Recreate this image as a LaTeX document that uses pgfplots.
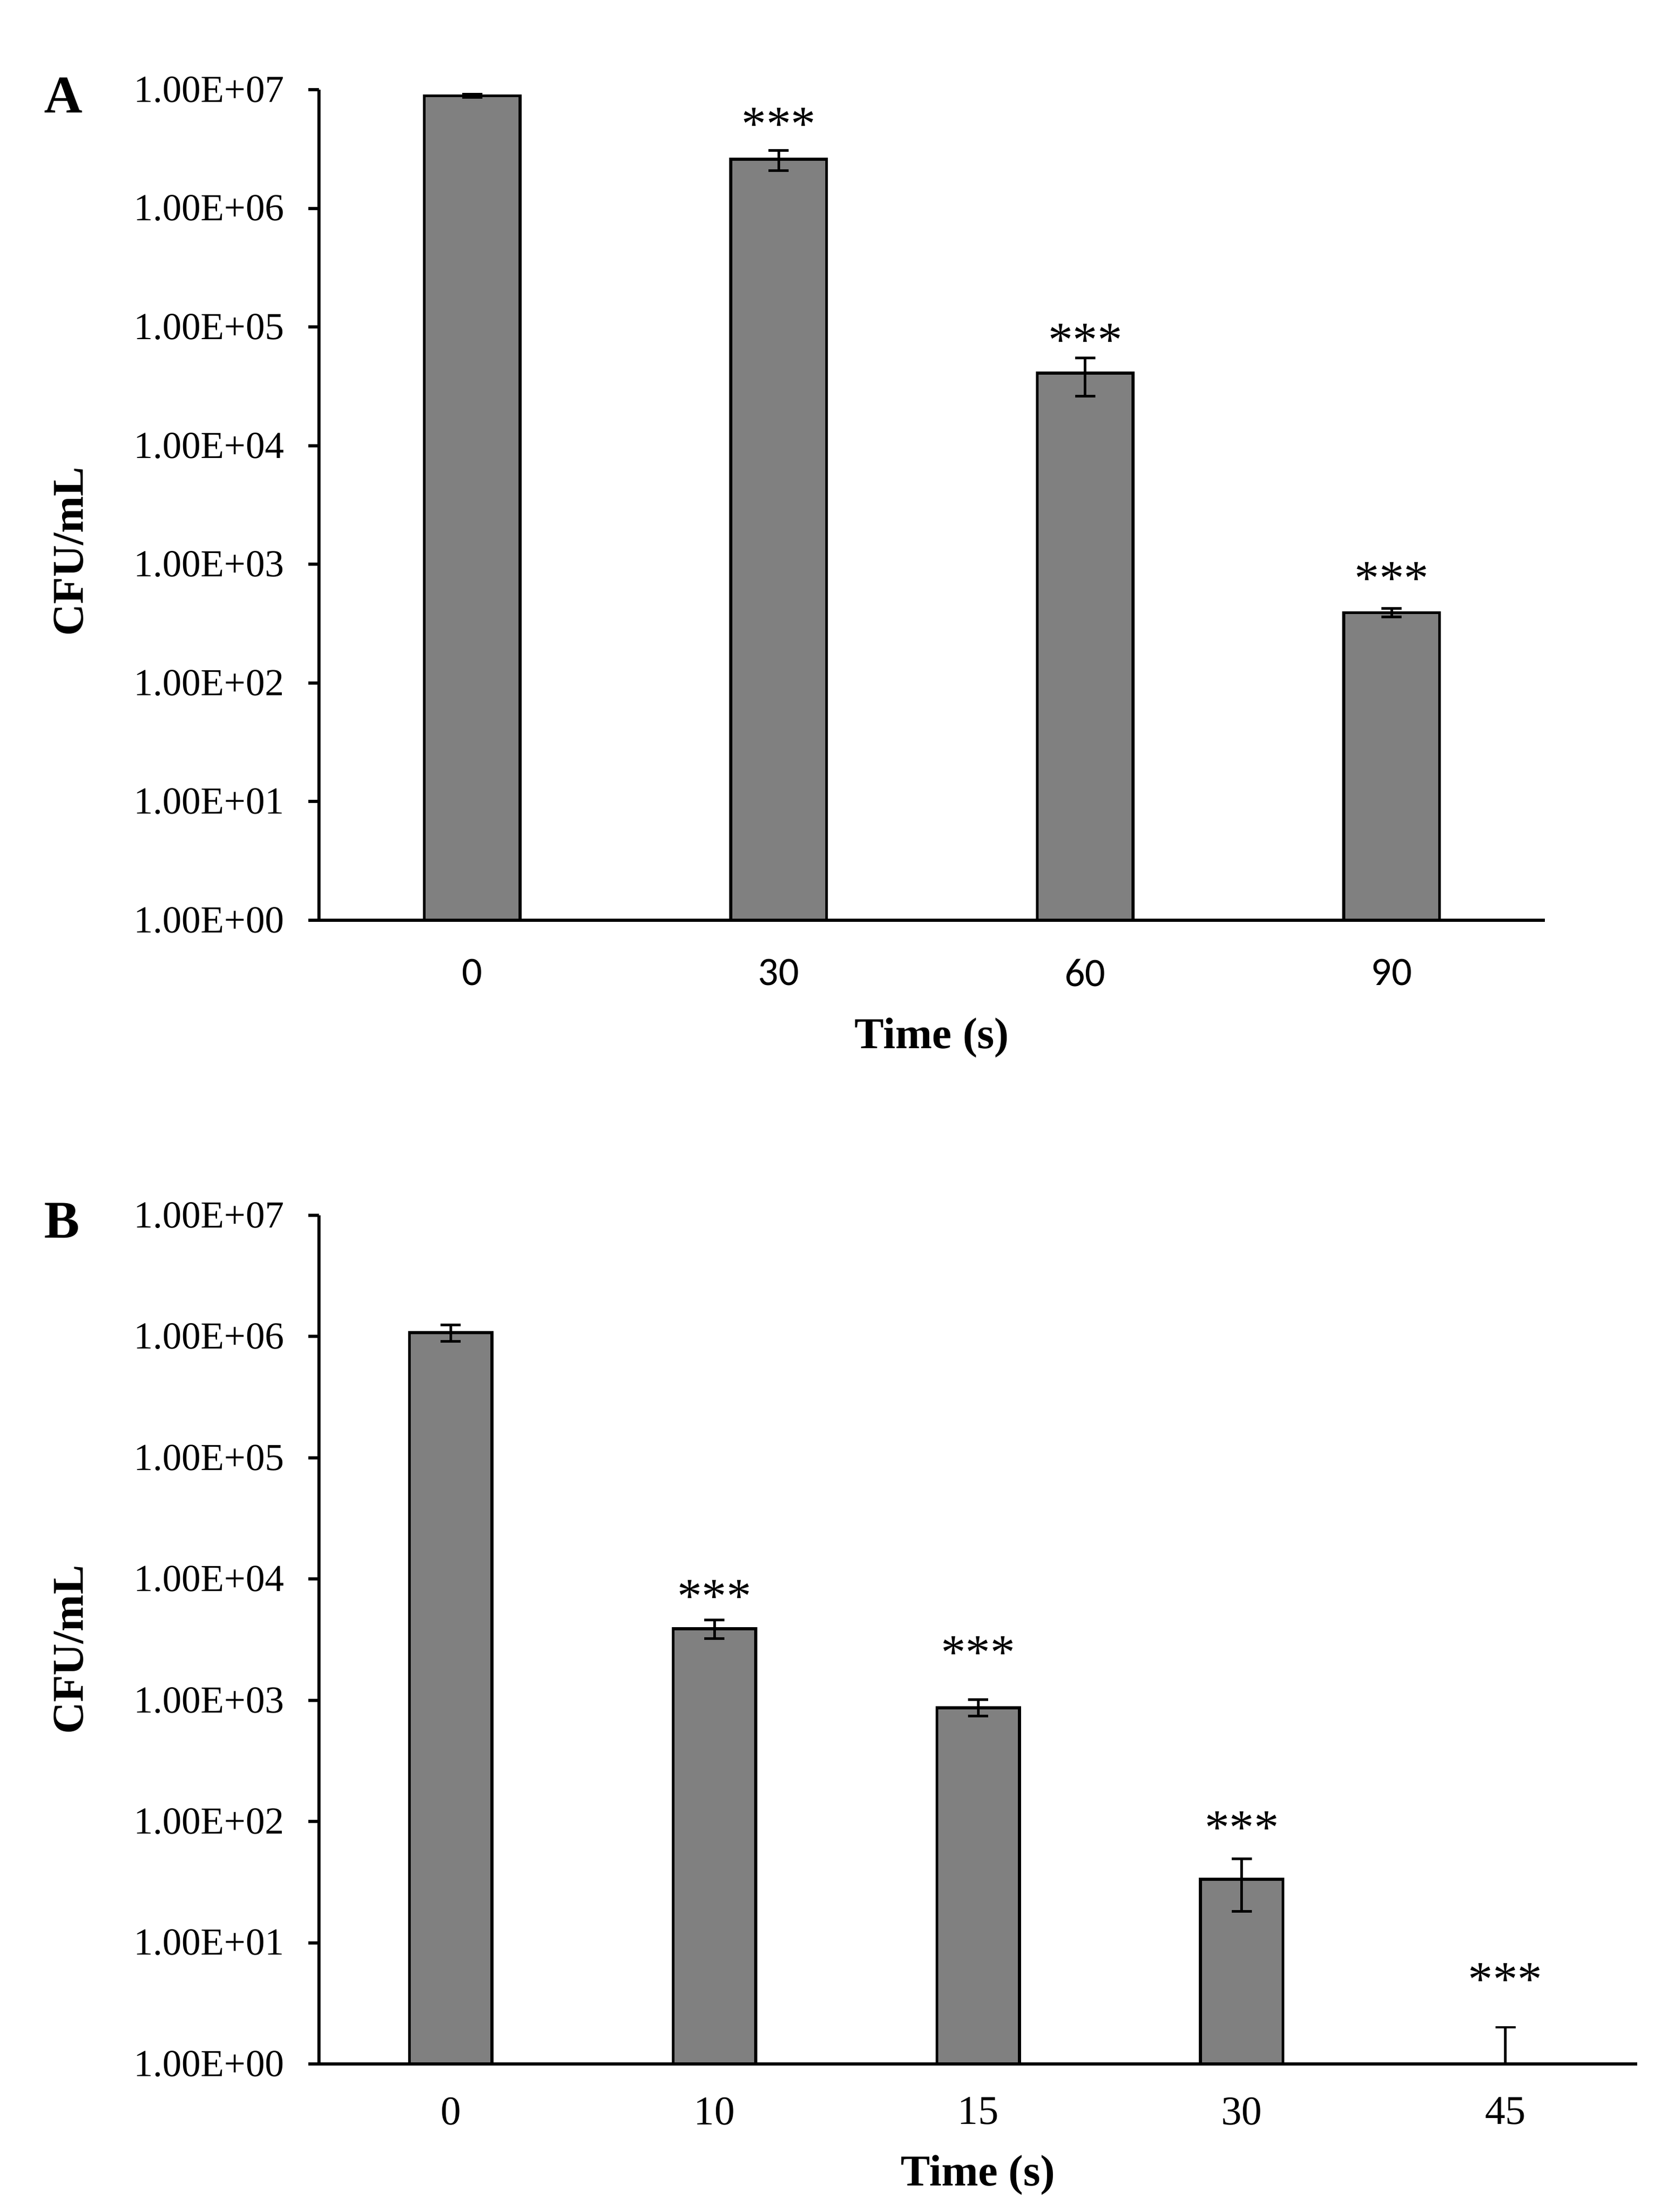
\documentclass[border=0pt]{standalone}
\usepackage{fontspec}
\setmainfont{Liberation Serif}
\newfontfamily\calibri{Carlito}
\usepackage{pgfplots}
\pgfplotsset{compat=1.18}

\begin{document}
\begin{tikzpicture}
\path[use as bounding box] (0,0) rectangle (314.2pt,416.8pt);

% Panel A
\begin{axis}[
  scale only axis,
  at={(60.1pt,243.4pt)}, anchor=south west,
  width=231pt, height=156.5pt,
  ymode=log, ymin=1, ymax=1e7,
  xmin=-0.5, xmax=3.5,
  axis lines*=left,
  axis line style={line width=0.65pt},
  tick align=outside,
  major tick length=2pt,
  yminorticks=false,
  ytick={1,10,100,1000,10000,100000,1000000,10000000},
  yticklabels={1.00E+00,1.00E+01,1.00E+02,1.00E+03,1.00E+04,1.00E+05,1.00E+06,1.00E+07},
  ytick style={line width=0.6pt, black},
  xtick style={draw=none},
  yticklabel style={font=\fontsize{7.2}{8}\selectfont, inner sep=0pt, xshift=-4.4pt},
  xtick={0,1,2,3}, xticklabels={0,30,60,90},
  xticklabel style={font=\calibri\fontsize{7.6}{8}\selectfont, inner sep=0pt, anchor=north, yshift=-5.1pt},
  xlabel={Time (s)}, ylabel={CFU/mL},
  xlabel style={font=\bfseries\fontsize{8.3}{9}\selectfont, inner sep=0pt, at={(axis description cs:0.5,0)}, anchor=base, yshift=-24.2pt},
  ylabel style={font=\bfseries\fontsize{8.3}{9}\selectfont, inner sep=0pt, at={(axis description cs:0,0.444)}, anchor=base, yshift=44.4pt},
  clip=false,
]
\addplot[ybar, bar width=0.313, bar shift=0pt,
  fill=black!50, draw=black, line width=0.55pt,
  error bars/.cd, y dir=both, y explicit,
  error bar style={line width=0.5pt, black},
  error mark options={rotate=90, mark size=1.9pt, line width=0.5pt, black},
] table[x=x, y=y, y error plus=ep, y error minus=em] {
x y ep em
0 8.9e6 0.3e6 0.3e6
1 2.59e6 0.49e6 0.52e6
2 4.08e4 1.42e4 1.46e4
3 390 35 30
};
\addplot[black, only marks, mark=*, mark size=0pt,
  mark options={draw=none, fill=none},
  nodes near coords={***},
  nodes near coords align={anchor=base},
  every node near coord/.append style={font=\fontsize{9.3}{10}\selectfont, inner sep=0pt, black},
] table[x=x, y=y] {
x y
1 3.75e6
2 5.68e4
3 552
};
\end{axis}

% Panel B
\begin{axis}[
  scale only axis,
  at={(60.1pt,27.9pt)}, anchor=south west,
  width=248.4pt, height=159.9pt,
  ymode=log, ymin=1, ymax=1e7,
  xmin=-0.5, xmax=4.5,
  axis lines*=left,
  axis line style={line width=0.65pt},
  tick align=outside,
  major tick length=2pt,
  yminorticks=false,
  ytick={1,10,100,1000,10000,100000,1000000,10000000},
  yticklabels={1.00E+00,1.00E+01,1.00E+02,1.00E+03,1.00E+04,1.00E+05,1.00E+06,1.00E+07},
  ytick style={line width=0.6pt, black},
  xtick style={draw=none},
  yticklabel style={font=\fontsize{7.2}{8}\selectfont, inner sep=0pt, xshift=-4.4pt},
  xtick={0,1,2,3,4}, xticklabels={0,10,15,30,45},
  xticklabel style={font=\fontsize{7.7}{8}\selectfont, inner sep=0pt, anchor=north, yshift=-4.1pt},
  xlabel={Time (s)}, ylabel={CFU/mL},
  xlabel style={font=\bfseries\fontsize{8.3}{9}\selectfont, inner sep=0pt, at={(axis description cs:0.5,0)}, anchor=base, yshift=-23pt},
  ylabel style={font=\bfseries\fontsize{8.3}{9}\selectfont, inner sep=0pt, at={(axis description cs:0,0.488)}, anchor=base, yshift=44.4pt},
  clip=false,
]
\addplot[ybar, bar width=0.313, bar shift=0pt,
  fill=black!50, draw=black, line width=0.55pt,
  error bars/.cd, y dir=both, y explicit,
  error bar style={line width=0.5pt, black},
  error mark options={rotate=90, mark size=1.9pt, line width=0.5pt, black},
] table[x=x, y=y, y error plus=ep, y error minus=em] {
x y ep em
0 1.08e6 0.17e6 0.17e6
1 3890 680 670
2 865 151 128
3 33.4 15.7 15.3
};
\addplot[black, only marks, mark=*, mark size=0pt,
  mark options={draw=none, fill=none},
  error bars/.cd, y dir=plus, y explicit,
  error bar style={line width=0.45pt, black},
  error mark options={rotate=90, mark size=1.9pt, line width=0.45pt, black},
] table[x=x, y=y, y error plus=ep] {
x y ep
4 1 1
};
\addplot[black, only marks, mark=*, mark size=0pt,
  mark options={draw=none, fill=none},
  nodes near coords={***},
  nodes near coords align={anchor=base},
  every node near coord/.append style={font=\fontsize{9.3}{10}\selectfont, inner sep=0pt, black},
] table[x=x, y=y] {
x y
1 5290
2 1815
3 65
4 3.67
};
\end{axis}

\node[font=\bfseries\fontsize{10}{12}\selectfont, anchor=base west, inner sep=0pt] at (8.1pt,395.5pt) {A};
\node[font=\bfseries\fontsize{10}{12}\selectfont, anchor=base west, inner sep=0pt] at (8.1pt,183.5pt) {B};
\end{tikzpicture}
\end{document}
